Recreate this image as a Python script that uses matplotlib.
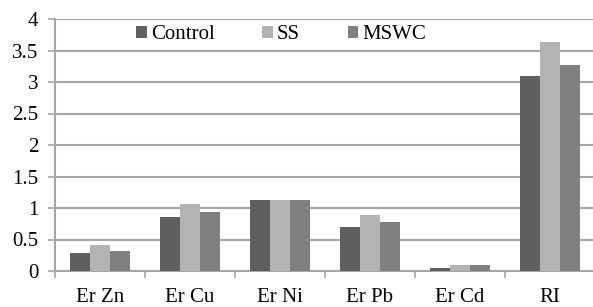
import matplotlib
matplotlib.use("Agg")
import matplotlib.pyplot as plt
import numpy as np
from matplotlib.patches import Patch
from matplotlib.font_manager import FontProperties

categories = ["Er Zn", "Er Cu", "Er Ni", "Er Pb", "Er Cd", "RI"]
series_names = ["Control", "SS", "MSWC"]
control = [0.29, 0.86, 1.12, 0.70, 0.04, 3.09]
ss = [0.42, 1.06, 1.12, 0.89, 0.10, 3.63]
mswc = [0.32, 0.93, 1.12, 0.77, 0.10, 3.27]
yticks = [0, 0.5, 1, 1.5, 2, 2.5, 3, 3.5, 4]
ytick_labels = ["0", "0.5", "1", "1.5", "2", "2.5", "3", "3.5", "4"]

colors = ["#5f5f5f", "#b3b3b3", "#808080"]
grid_color = "#a6a6a6"

plt.rcParams['font.family'] = ['Liberation Serif', 'DejaVu Serif']
fp = FontProperties(family='Liberation Serif', size=15)

W, H = 593, 307
fig = plt.figure(figsize=(W / 100, H / 100), dpi=100)
left, right, top, bottom = 55, 595, 19, 271
ax = fig.add_axes([left / W, (H - bottom) / H, (right - left) / W, (bottom - top) / H])

x = np.arange(len(categories))
bw = 0.222
for i, (vals, name) in enumerate(zip([control, ss, mswc], series_names)):
    ax.bar(x + (i - 1) * bw, vals, width=bw, color=colors[i], label=name, zorder=3)

ax.set_xlim(-0.5, len(categories) - 0.5)
ax.set_ylim(0, 4)
ax.set_yticks(yticks)
ax.set_yticklabels(ytick_labels, fontproperties=fp)
ax.yaxis.grid(True, color=grid_color, linewidth=1.5, zorder=0)
ax.set_axisbelow(True)
ax.tick_params(axis='y', length=5, width=1.2, color=grid_color, pad=7)

ax.set_xticks(x)
ax.set_xticklabels(categories, fontproperties=fp)
ax.set_xticks(np.arange(len(categories) + 1) - 0.5, minor=True)
ax.tick_params(axis='x', which='major', length=0, pad=12)
ax.tick_params(axis='x', which='minor', length=5, width=1.2, color=grid_color)

for s in ['top', 'right']:
    ax.spines[s].set_visible(False)
for s in ['left', 'bottom']:
    ax.spines[s].set_color(grid_color)
    ax.spines[s].set_linewidth(1.5)

handles = [Patch(facecolor=c, edgecolor='none', label=n) for c, n in zip(colors, series_names)]
ax.legend(handles=handles, loc='center', bbox_to_anchor=(0.419, 0.937), ncol=3,
          frameon=False, prop=fp, handlelength=0.5, handleheight=0.5,
          handletextpad=0.2, columnspacing=2.3, borderaxespad=0)

fig.savefig("out.png", dpi=100)
